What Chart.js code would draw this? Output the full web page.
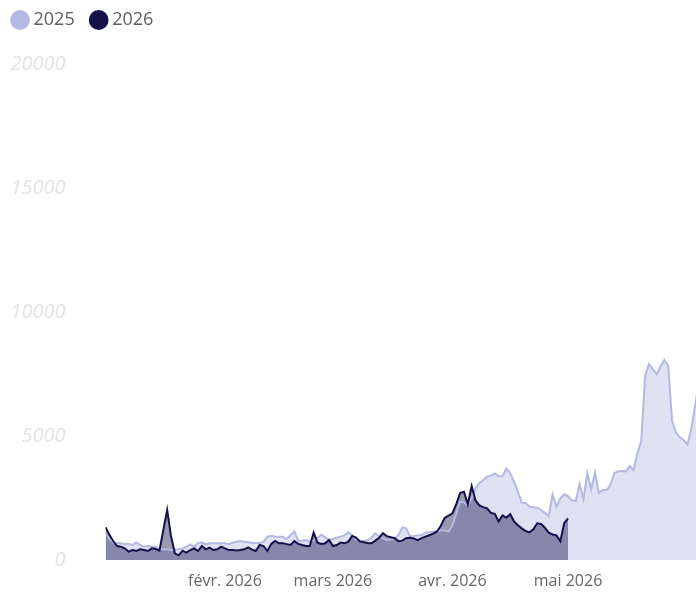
<!DOCTYPE html>
<html>
<head>
<meta charset="utf-8">
<script src="https://cdn.jsdelivr.net/npm/chart.js@4/dist/chart.umd.min.js"></script>
<style>
  html, body { margin: 0; padding: 0; background: #ffffff; }
  #wrap { width: 696px; height: 596px; position: relative; }
</style>
</head>
<body>
<div id="wrap"><canvas id="c"></canvas></div>
<script>
// Day index 0 = 1 janv., one value per day
const seriesNames = ['2025', '2026'];
const values2025 = [
  1100, 850, 700, 672, 672, 645, 650, 605, 712, 605,
  538, 565, 540, 538, 430, 430, 420, 403, 403, 430,
  470, 538, 632, 538, 680, 712, 632, 672, 672, 672,
  672, 672, 640, 699, 740, 770, 739, 726, 690, 685,
  685, 739, 941, 981, 950, 941, 941, 846, 1000, 1156,
  780, 790, 806, 739, 780, 900, 1021, 914, 806, 846,
  900, 941, 994, 1116, 1000, 820, 790, 766, 800, 900,
  1075, 950, 870, 806, 830, 874, 1000, 1317, 1280, 960,
  968, 990, 1008, 1100, 1130, 1142, 1160, 1190, 1190, 1142,
  1400, 1870, 2352, 2330, 2200, 2500, 2900, 3100, 3226, 3360,
  3400, 3494, 3387, 3380, 3696, 3494, 3150, 2750, 2312, 2300,
  2150, 2130, 2110, 2016, 1900, 1780, 2648, 2150, 2486, 2650,
  2580, 2400, 2379, 3064, 2450, 3494, 2850, 3521, 2700, 2822,
  2822, 3024, 3500, 3580, 3588, 3575, 3790, 3629, 4301, 4800,
  7419, 7903, 7700, 7486, 7800, 8064, 7822, 5600, 5150, 4946,
  4838, 4650, 5300, 6250, 7200
];
const values2026 = [
  1318, 1021, 766, 564, 538, 470, 336, 403, 363, 430,
  403, 363, 470, 443, 376, 1210, 2016, 954, 269, 188,
  376, 296, 403, 470, 363, 564, 430, 497, 403, 430,
  538, 470, 400, 400, 385, 400, 430, 511, 420, 363,
  605, 564, 363, 650, 766, 672, 672, 640, 605, 766,
  650, 605, 564, 564, 1102, 700, 645, 672, 806, 564,
  605, 700, 672, 740, 970, 900, 750, 720, 690, 672,
  780, 900, 1080, 960, 920, 880, 760, 780, 880, 900,
  870, 800, 880, 940, 1000, 1060, 1150, 1380, 1700, 1790,
  1880, 2250, 2700, 2750, 2250, 2984, 2400, 2200, 2130, 2083,
  1900, 1860, 1550, 1800, 1700, 1850, 1550, 1400, 1277, 1170,
  1116, 1237, 1480, 1450, 1300, 1100, 1030, 995, 760, 1480,
  1680
];
const monthTickDays = [31, 59, 90, 120];
const monthTickLabels = ['févr. 2026', 'mars 2026', 'avr. 2026', 'mai 2026'];
const yTickValues = [0, 5000, 10000, 15000, 20000];

const toPoints = arr => arr.map((v, i) => ({ x: i, y: v }));
const FONT = "'Open Sans', 'Noto Sans', sans-serif";

// extra room between legend and plot area
const legendGap = {
  id: 'legendGap',
  beforeLayout(chart) {
    const lg = chart.legend;
    if (lg && !lg._gapPatched) {
      const origFit = lg.fit;
      lg.fit = function () { origFit.call(this); this.height += 25; };
      lg._gapPatched = true;
    }
  }
};

new Chart(document.getElementById('c'), {
  type: 'line',
  data: {
    datasets: [
      {
        label: seriesNames[0],
        data: toPoints(values2025),
        borderColor: '#b3b9e2',
        backgroundColor: 'rgba(179,185,226,0.42)',
        pointBackgroundColor: '#b3b9e2',
        pointBorderColor: '#b3b9e2',
        pointBorderWidth: 0,
        pointRadius: 0,
        borderWidth: 2,
        tension: 0,
        fill: 'origin',
        order: 1
      },
      {
        label: seriesNames[1],
        data: toPoints(values2026),
        borderColor: '#14104a',
        backgroundColor: 'rgba(18,16,74,0.43)',
        pointBackgroundColor: '#14104a',
        pointBorderColor: '#14104a',
        pointBorderWidth: 0,
        pointRadius: 0,
        borderWidth: 2,
        tension: 0,
        fill: 'origin',
        order: 0
      }
    ]
  },
  plugins: [legendGap],
  options: {
    responsive: true,
    maintainAspectRatio: false,
    animation: false,
    layout: { padding: { top: -8.5, right: 0, bottom: 0, left: -4 } },
    plugins: {
      filler: { drawTime: 'beforeDatasetsDraw' },
      tooltip: { enabled: false },
      legend: {
        position: 'top',
        align: 'start',
        labels: {
          usePointStyle: true,
          pointStyle: 'circle',
          boxWidth: 9,
          boxHeight: 14,
          padding: 19.5,
          color: '#605e5c',
          font: { family: FONT, size: 18 },
          sort: (a, b) => a.datasetIndex - b.datasetIndex
        }
      }
    },
    scales: {
      x: {
        type: 'linear',
        min: 0,
        max: 153.2,
        grid: { display: false, drawTicks: false },
        border: { display: false },
        afterFit: scale => { scale.height = 36; },
        afterBuildTicks: scale => { scale.ticks = monthTickDays.map(v => ({ value: v })); },
        ticks: {
          autoSkip: false,
          maxRotation: 0,
          padding: 11.4,
          color: '#666666',
          font: { family: FONT, size: 16 },
          callback: v => monthTickLabels[monthTickDays.indexOf(v)]
        }
      },
      y: {
        min: 0,
        max: 20000,
        grid: { display: false, drawTicks: false },
        border: { display: false },
        afterFit: scale => {
          scale.width = 109.5;
          scale.paddingTop = 12;
          scale.paddingBottom = 12;
        },
        afterBuildTicks: scale => { scale.ticks = yTickValues.map(v => ({ value: v })); },
        ticks: {
          padding: 40,
          color: '#e3e3e3',
          font: { family: FONT, size: 20, style: 'italic' },
          callback: v => String(v)
        }
      }
    }
  }
});
</script>
</body>
</html>
